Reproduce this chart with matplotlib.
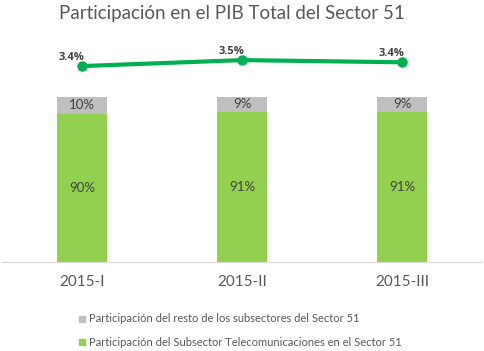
import matplotlib.pyplot as plt
import numpy as np

plt.rcParams['font.family'] = ['Lato', 'DejaVu Sans']

periodos = ['2015-I', '2015-II', '2015-III']
telecom = [90, 91, 91]
resto = [10, 9, 9]
pib_sector = [3.37, 3.48, 3.44]
pib_labels = ['3.4%', '3.5%', '3.4%']

verde = '#92d050'
gris = '#bfbfbf'
verde_linea = '#00b050'
texto = '#595959'

fig = plt.figure(figsize=(4.85, 3.51), dpi=100)
W, H = 485, 351

# barras apiladas
ax = fig.add_axes([2 / W, 1 - 262 / H, 480 / W, 165 / H])
x = np.arange(len(periodos))
b1 = ax.bar(x, telecom, width=0.31, color=verde)
b2 = ax.bar(x, resto, width=0.31, bottom=telecom, color=gris)
ax.bar_label(b1, labels=[f'{v}%' for v in telecom], label_type='center',
             fontsize=9.5, color='#404040')
ax.bar_label(b2, labels=[f'{v}%' for v in resto], label_type='center',
             fontsize=9.5, color='#404040')
ax.set_xlim(-0.5, 2.5)
ax.set_ylim(0, 100)
ax.set_yticks([])
ax.set_xticks(x)
ax.set_xticklabels(periodos, fontsize=11, color=texto)
ax.tick_params(axis='x', length=0, pad=9)
for s in ['top', 'left', 'right']:
    ax.spines[s].set_visible(False)
ax.spines['bottom'].set_color('#d9d9d9')

# linea participacion PIB
ax2 = fig.add_axes([2 / W, 1 - 90 / H, 480 / W, 50 / H])
ax2.plot(x, pib_sector, color=verde_linea, linewidth=3, marker='o', markersize=6.5)
for xi, yi, lab in zip(x, pib_sector, pib_labels):
    ax2.annotate(lab, (xi, yi), xytext=(-7.5, 4.5), textcoords='offset points',
                 ha='center', va='baseline', fontsize=8, fontweight='bold',
                 color='#404040', family=['Open Sans', 'DejaVu Sans'])
ax2.set_xlim(-0.5, 2.5)
ax2.set_ylim(2.93, 3.85)
ax2.axis('off')

fig.text(232 / W, 1 - 13 / H, 'Participación en el PIB Total del Sector 51',
         ha='center', va='center', fontsize=13.5, color=texto)

# leyenda
for yy, col, lab in [(319, gris, 'Participación del resto de los subsectores del Sector 51'),
                     (342, verde, 'Participación del Subsector Telecomunicaciones en el Sector 51')]:
    fig.patches.append(plt.Rectangle((79 / W, 1 - (yy + 3) / H), 6 / W, 6 / H,
                                     transform=fig.transFigure, color=col))
    fig.text(89 / W, 1 - yy / H, lab, ha='left', va='center', fontsize=8, color=texto)

fig.savefig('out.png', dpi=100)
